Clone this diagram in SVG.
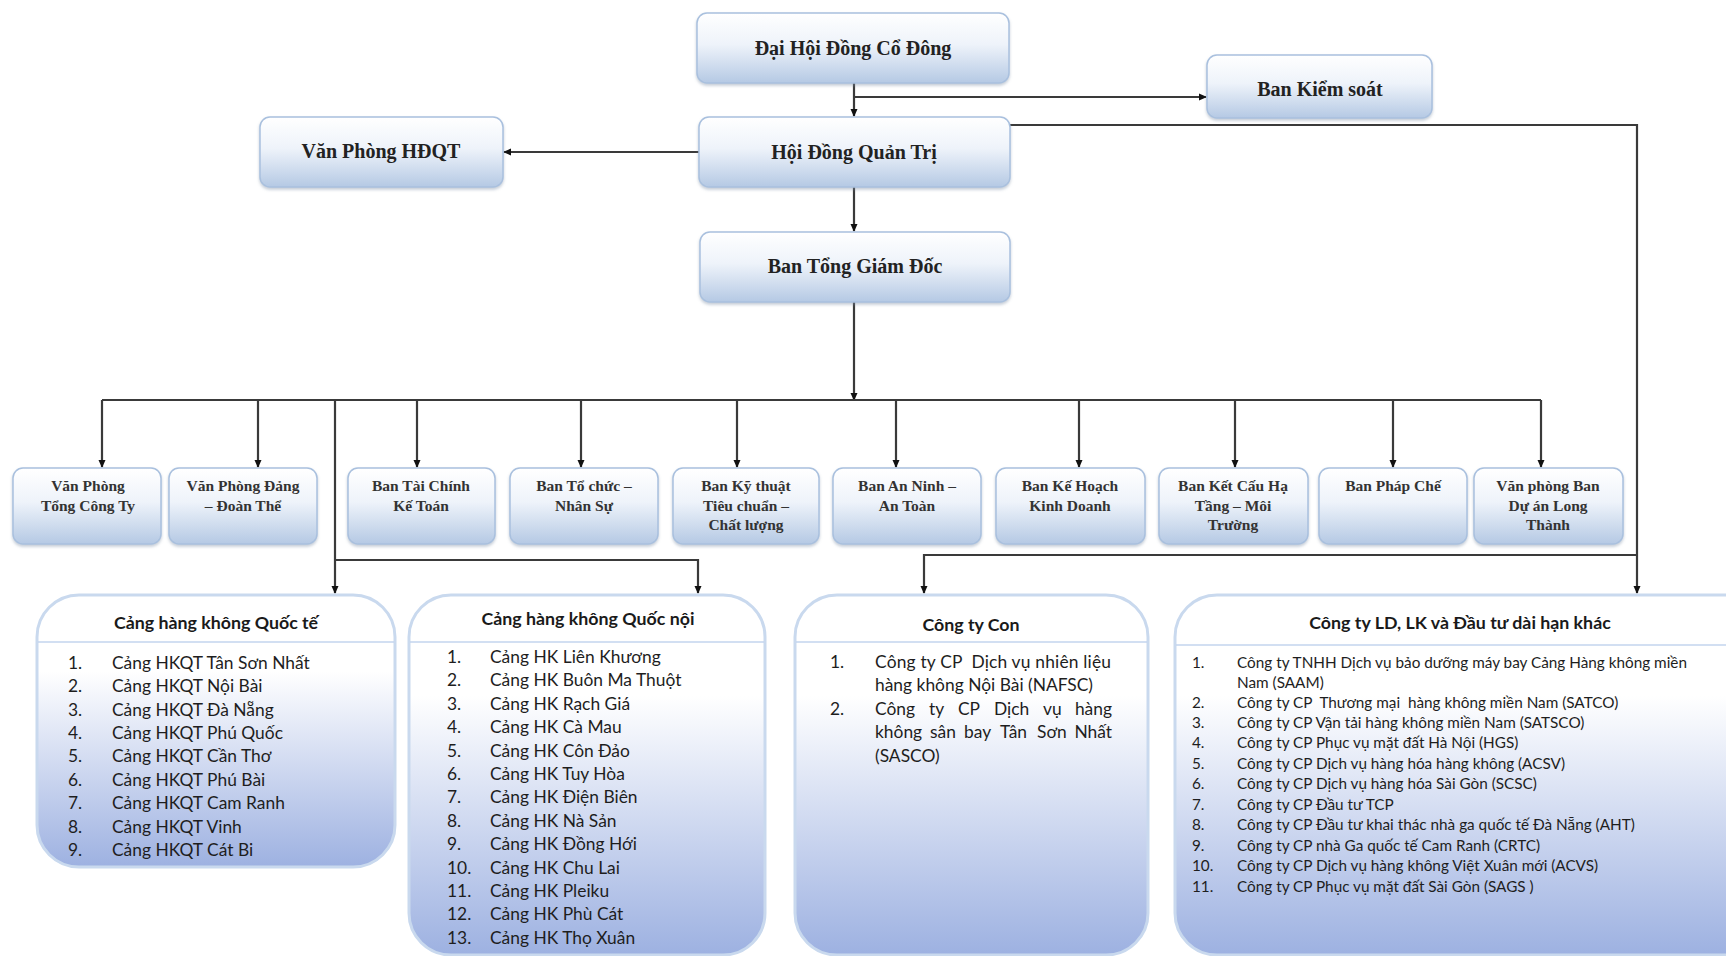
<svg xmlns="http://www.w3.org/2000/svg" width="1726" height="956" viewBox="0 0 1726 956">
<defs>
<linearGradient id="gTop" x1="0" y1="0" x2="0" y2="1">
<stop offset="0" stop-color="#ffffff"/>
<stop offset="0.45" stop-color="#eef3fa"/>
<stop offset="1" stop-color="#b5c9e4"/>
</linearGradient>
<linearGradient id="gBig" x1="0" y1="0" x2="0" y2="1">
<stop offset="0" stop-color="#ffffff"/>
<stop offset="0.28" stop-color="#ffffff"/>
<stop offset="1" stop-color="#9db1e1"/>
</linearGradient>
<filter id="sh" x="-5%" y="-5%" width="110%" height="125%">
<feDropShadow dx="0" dy="2" stdDeviation="1.5" flood-color="#7f8fa6" flood-opacity="0.45"/>
</filter>
<marker id="arr" markerWidth="8" markerHeight="8" refX="7" refY="4" orient="auto" markerUnits="userSpaceOnUse">
<path d="M0,0.5 L8,4 L0,7.5 z" fill="#111"/>
</marker>
<style>
.box{fill:url(#gTop);stroke:#a9c0de;stroke-width:1.5;filter:url(#sh)}
.big{fill:url(#gBig);stroke:#c9d9ee;stroke-width:3}
.div{stroke:#c3d5ee;stroke-width:1.5}
.t1{font-family:"Liberation Serif","Times New Roman",serif;font-weight:bold;font-size:20px;fill:#222;text-anchor:middle}
.t2{font-family:"Liberation Serif","Times New Roman",serif;font-weight:bold;font-size:15.5px;fill:#333;text-anchor:middle}
.hd{font-family:Lato,"Open Sans",sans-serif;font-weight:bold;font-size:17.8px;fill:#1a1a1a;text-anchor:middle}
.li{font-family:Lato,"Open Sans",sans-serif;font-size:17.4px;fill:#1e1e1e}
.ls{font-family:Lato,"Open Sans",sans-serif;font-size:15.3px;fill:#1e1e1e}
.ln{fill:none;stroke:#3a3a3a;stroke-width:2.2}
.pre{white-space:pre}
</style>
</defs>
<rect width="1726" height="956" fill="#ffffff"/>

<g id="connectors">
<path class="ln" d="M854,83 V116" marker-end="url(#arr)"/>
<path class="ln" d="M854,97 H1206" marker-end="url(#arr)"/>
<path class="ln" d="M699,152 H504" marker-end="url(#arr)"/>
<path class="ln" d="M1010,125 H1637 V593" marker-end="url(#arr)"/>
<path class="ln" d="M854,187 V231" marker-end="url(#arr)"/>
<path class="ln" d="M854,302 V400" marker-end="url(#arr)"/>
<path class="ln" d="M102,400 H1541"/>
<path class="ln" d="M102,400 V467" marker-end="url(#arr)"/>
<path class="ln" d="M258,400 V467" marker-end="url(#arr)"/>
<path class="ln" d="M417,400 V467" marker-end="url(#arr)"/>
<path class="ln" d="M581,400 V467" marker-end="url(#arr)"/>
<path class="ln" d="M737,400 V467" marker-end="url(#arr)"/>
<path class="ln" d="M896,400 V467" marker-end="url(#arr)"/>
<path class="ln" d="M1079,400 V467" marker-end="url(#arr)"/>
<path class="ln" d="M1235,400 V467" marker-end="url(#arr)"/>
<path class="ln" d="M1393,400 V467" marker-end="url(#arr)"/>
<path class="ln" d="M1541,400 V467" marker-end="url(#arr)"/>
<path class="ln" d="M335,400 V593" marker-end="url(#arr)"/>
<path class="ln" d="M335,560 H698 V593" marker-end="url(#arr)"/>
<path class="ln" d="M1637,555 H924 V593" marker-end="url(#arr)"/>
</g>

<g id="dai-hoi">
<rect class="box" x="697" y="13" width="312" height="70" rx="10"/>
<text class="t1" x="853" y="55">Đại Hội Đồng Cổ Đông</text>
</g>
<g id="ban-kiem-soat">
<rect class="box" x="1207" y="55" width="225" height="63" rx="10"/>
<text class="t1" x="1320" y="96">Ban Kiểm soát</text>
</g>
<g id="hdqt">
<rect class="box" x="699" y="117" width="311" height="70" rx="10"/>
<text class="t1" x="854" y="159">Hội Đồng Quản Trị</text>
</g>
<g id="vp-hdqt">
<rect class="box" x="260" y="117" width="243" height="70" rx="10"/>
<text class="t1" x="381" y="158">Văn Phòng HĐQT</text>
</g>
<g id="ban-tgd">
<rect class="box" x="700" y="232" width="310" height="70" rx="10"/>
<text class="t1" x="855" y="273">Ban Tổng Giám Đốc</text>
</g>

<g id="d1"><rect class="box" x="13" y="468" width="148" height="76" rx="10"/>
<text class="t2" x="88" y="491">Văn Phòng</text><text class="t2" x="88" y="511">Tổng Công Ty</text></g>
<g id="d2"><rect class="box" x="169" y="468" width="148" height="76" rx="10"/>
<text class="t2" x="243" y="491">Văn Phòng Đảng</text><text class="t2" x="243" y="511">– Đoàn Thể</text></g>
<g id="d3"><rect class="box" x="348" y="468" width="147" height="76" rx="10"/>
<text class="t2" x="421" y="491">Ban Tài Chính</text><text class="t2" x="421" y="511">Kế Toán</text></g>
<g id="d4"><rect class="box" x="510" y="468" width="148" height="76" rx="10"/>
<text class="t2" x="584" y="491">Ban Tổ chức –</text><text class="t2" x="584" y="511">Nhân Sự</text></g>
<g id="d5"><rect class="box" x="673" y="468" width="146" height="76" rx="10"/>
<text class="t2" x="746" y="491">Ban Kỹ thuật</text><text class="t2" x="746" y="511">Tiêu chuẩn –</text><text class="t2" x="746" y="530">Chất lượng</text></g>
<g id="d6"><rect class="box" x="833" y="468" width="148" height="76" rx="10"/>
<text class="t2" x="907" y="491">Ban An Ninh –</text><text class="t2" x="907" y="511">An Toàn</text></g>
<g id="d7"><rect class="box" x="996" y="468" width="149" height="76" rx="10"/>
<text class="t2" x="1070" y="491">Ban Kế Hoạch</text><text class="t2" x="1070" y="511">Kinh Doanh</text></g>
<g id="d8"><rect class="box" x="1159" y="468" width="149" height="76" rx="10"/>
<text class="t2" x="1233" y="491">Ban Kết Cấu Hạ</text><text class="t2" x="1233" y="511">Tầng – Môi</text><text class="t2" x="1233" y="530">Trường</text></g>
<g id="d9"><rect class="box" x="1319" y="468" width="148" height="76" rx="10"/>
<text class="t2" x="1393" y="491">Ban Pháp Chế</text></g>
<g id="d10"><rect class="box" x="1474" y="468" width="149" height="76" rx="10"/>
<text class="t2" x="1548" y="491">Văn phòng Ban</text><text class="t2" x="1548" y="511">Dự án Long</text><text class="t2" x="1548" y="530">Thành</text></g>

<g id="cang-quoc-te">
<rect class="big" x="37" y="595" width="358" height="272" rx="42"/>
<line class="div" x1="38" y1="642" x2="394" y2="642"/>
<text class="hd" x="216" y="629">Cảng hàng không Quốc tế</text>
<g class="li">
<text x="68" y="669">1.</text><text x="112" y="669">Cảng HKQT Tân Sơn Nhất</text>
<text x="68" y="692">2.</text><text x="112" y="692">Cảng HKQT Nội Bài</text>
<text x="68" y="716">3.</text><text x="112" y="716">Cảng HKQT Đà Nẵng</text>
<text x="68" y="739">4.</text><text x="112" y="739">Cảng HKQT Phú Quốc</text>
<text x="68" y="762">5.</text><text x="112" y="762">Cảng HKQT Cần Thơ</text>
<text x="68" y="786">6.</text><text x="112" y="786">Cảng HKQT Phú Bài</text>
<text x="68" y="809">7.</text><text x="112" y="809">Cảng HKQT Cam Ranh</text>
<text x="68" y="833">8.</text><text x="112" y="833">Cảng HKQT Vinh</text>
<text x="68" y="856">9.</text><text x="112" y="856">Cảng HKQT Cát Bi</text>
</g>
</g>

<g id="cang-quoc-noi">
<rect class="big" x="409" y="595" width="356" height="360" rx="42"/>
<line class="div" x1="410" y1="642" x2="764" y2="642"/>
<text class="hd" x="588" y="625">Cảng hàng không Quốc nội</text>
<g class="li">
<text x="447" y="663">1.</text><text x="490" y="663">Cảng HK Liên Khương</text>
<text x="447" y="686">2.</text><text x="490" y="686">Cảng HK Buôn Ma Thuột</text>
<text x="447" y="710">3.</text><text x="490" y="710">Cảng HK Rạch Giá</text>
<text x="447" y="733">4.</text><text x="490" y="733">Cảng HK Cà Mau</text>
<text x="447" y="757">5.</text><text x="490" y="757">Cảng HK Côn Đảo</text>
<text x="447" y="780">6.</text><text x="490" y="780">Cảng HK Tuy Hòa</text>
<text x="447" y="803">7.</text><text x="490" y="803">Cảng HK Điện Biên</text>
<text x="447" y="827">8.</text><text x="490" y="827">Cảng HK Nà Sản</text>
<text x="447" y="850">9.</text><text x="490" y="850">Cảng HK Đồng Hới</text>
<text x="447" y="874">10.</text><text x="490" y="874">Cảng HK Chu Lai</text>
<text x="447" y="897">11.</text><text x="490" y="897">Cảng HK Pleiku</text>
<text x="447" y="920">12.</text><text x="490" y="920">Cảng HK Phù Cát</text>
<text x="447" y="944">13.</text><text x="490" y="944">Cảng HK Thọ Xuân</text>
</g>
</g>

<g id="cong-ty-con">
<rect class="big" x="795" y="595" width="353" height="360" rx="42"/>
<line class="div" x1="796" y1="642" x2="1147" y2="642"/>
<text class="hd" x="971" y="631">Công ty Con</text>
<g class="li">
<text x="830" y="668">1.</text>
<text class="pre" x="875" y="668" textLength="236" lengthAdjust="spacing">Công ty CP  Dịch vụ nhiên liệu</text>
<text x="875" y="691">hàng không Nội Bài (NAFSC)</text>
<text x="830" y="715">2.</text>
<text y="715"><tspan x="875">Công</tspan><tspan x="929">ty</tspan><tspan x="958">CP</tspan><tspan x="994">Dịch</tspan><tspan x="1043">vụ</tspan><tspan x="1112" text-anchor="end">hàng</tspan></text>
<text y="738"><tspan x="875">không</tspan><tspan x="930">sân</tspan><tspan x="964">bay</tspan><tspan x="1000">Tân</tspan><tspan x="1037">Sơn</tspan><tspan x="1112" text-anchor="end">Nhất</tspan></text>
<text x="875" y="762">(SASCO)</text>
</g>
</g>

<g id="cong-ty-ld">
<rect class="big" x="1175" y="595" width="600" height="360" rx="42"/>
<line class="div" x1="1176" y1="645" x2="1726" y2="645"/>
<text class="hd" x="1460" y="629">Công ty LD, LK và Đầu tư dài hạn khác</text>
<g class="ls">
<text x="1192" y="668">1.</text><text x="1237" y="668">Công ty TNHH Dịch vụ bảo dưỡng máy bay Cảng Hàng không miền</text>
<text x="1237" y="688">Nam (SAAM)</text>
<text x="1192" y="708">2.</text><text class="pre" x="1237" y="708">Công ty CP  Thương mại  hàng không miền Nam (SATCO)</text>
<text x="1192" y="728">3.</text><text x="1237" y="728">Công ty CP Vận tải hàng không miền Nam (SATSCO)</text>
<text x="1192" y="748">4.</text><text x="1237" y="748">Công ty CP Phục vụ mặt đất Hà Nội (HGS)</text>
<text x="1192" y="769">5.</text><text x="1237" y="769">Công ty CP Dịch vụ hàng hóa hàng không (ACSV)</text>
<text x="1192" y="789">6.</text><text x="1237" y="789">Công ty CP Dịch vụ hàng hóa Sài Gòn (SCSC)</text>
<text x="1192" y="810">7.</text><text x="1237" y="810">Công ty CP Đầu tư TCP</text>
<text x="1192" y="830">8.</text><text x="1237" y="830">Công ty CP Đầu tư khai thác nhà ga quốc tế Đà Nẵng (AHT)</text>
<text x="1192" y="851">9.</text><text x="1237" y="851">Công ty CP nhà Ga quốc tế Cam Ranh (CRTC)</text>
<text x="1192" y="871">10.</text><text x="1237" y="871">Công ty CP Dịch vụ hàng không Việt Xuân mới (ACVS)</text>
<text x="1192" y="892">11.</text><text x="1237" y="892">Công ty CP Phục vụ mặt đất Sài Gòn (SAGS )</text>
</g>
</g>
</svg>
